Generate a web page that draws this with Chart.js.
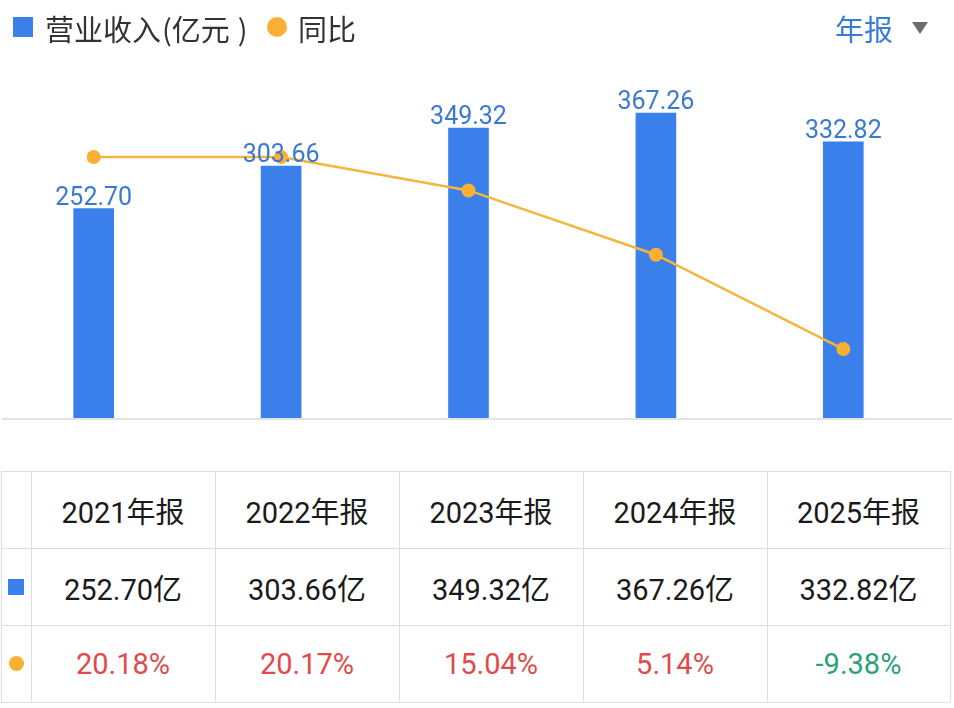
<!DOCTYPE html>
<html><head><meta charset="utf-8">
<script src="https://cdn.jsdelivr.net/npm/chart.js@4"></script>
<style>
html,body{margin:0;padding:0;background:#fff;width:954px;height:708px;overflow:hidden;font-family:"Noto Sans CJK SC","Noto Sans",sans-serif;}
#wrap{position:absolute;left:0;top:0;width:954px;height:440px;}
.abs{position:absolute;}
#legend{left:0;top:0;height:56px;}
.lg-sq{position:absolute;left:13px;top:17px;width:20px;height:20px;background:#3b80ea;}
.lg-t{position:absolute;font-size:29px;color:#333;line-height:56px;top:0;white-space:nowrap;font-family:"Noto Sans CJK SC",sans-serif;}
.lg-c{position:absolute;left:267px;top:17px;width:20px;height:20px;border-radius:50%;background:#fbb034;}
#period{left:835px;top:0;line-height:56px;font-size:29px;color:#3a7bd5;}
#tri{left:912px;top:22px;width:0;height:0;border-left:8px solid transparent;border-right:8px solid transparent;border-top:12px solid #6b6b6b;}
#base{left:2px;top:418px;width:950px;height:2px;background:#e3e3e3;}
.cell{position:absolute;display:flex;align-items:center;justify-content:center;box-sizing:border-box;font-size:29px;font-weight:400;color:#1a1a1a;font-family:"Roboto","Noto Sans CJK SC",sans-serif;}
.hl{position:absolute;height:1px;background:#dedede;}
.vl{position:absolute;width:1px;background:#dedede;}
</style></head>
<body>
<div id="wrap"><canvas id="c" width="954" height="440"></canvas></div>
<div id="legend" class="abs">
  <div class="lg-sq"></div>
  <div class="lg-t" style="left:45px">营业收入<span style="margin-left:1px">(</span>亿元<span style="margin-left:8px">)</span></div>
  <div class="lg-c"></div>
  <div class="lg-t" style="left:298px">同比</div>
</div>
<div id="period" class="abs">年报</div>
<div id="tri" class="abs"></div>
<div id="base" class="abs"></div>
<div id="table"></div>
<script>
const categories = ["2021年报","2022年报","2023年报","2024年报","2025年报"];
const revenue = [252.70, 303.66, 349.32, 367.26, 332.82];
const yoy = [20.18, 20.17, 15.04, 5.14, -9.38];
const revenueAxis = {min: 0, max: 419};
const yoyAxis = {min: -20.15, max: 33.58};

const barLabels = {
  id: 'barLabels',
  afterDatasetsDraw(chart) {
    const ctx = chart.ctx;
    const meta = chart.getDatasetMeta(0);
    ctx.save();
    ctx.font = '25px Roboto, "Noto Sans", sans-serif';
    ctx.fillStyle = '#3a78d6';
    ctx.textAlign = 'center';
    ctx.textBaseline = 'alphabetic';
    meta.data.forEach((el, i) => {
      ctx.fillText(revenue[i].toFixed(2), el.x, el.y - 4);
    });
    ctx.restore();
  }
};

new Chart(document.getElementById('c'), {
  data: {
    labels: categories,
    datasets: [
      {type: 'bar', label: '营业收入(亿元)', data: revenue, backgroundColor: '#3b80ea', barThickness: 40, yAxisID: 'y', order: 2},
      {type: 'line', label: '同比', data: yoy, borderColor: '#f4b63c', borderWidth: 2.5, pointRadius: 7, pointBackgroundColor: '#fbb034', pointBorderWidth: 0, tension: 0, yAxisID: 'y1', order: 1}
    ]
  },
  options: {
    responsive: false,
    animation: false,
    devicePixelRatio: 1,
    layout: {autoPadding: false, padding: {left: 0, right: 17, top: 70, bottom: 21}},
    plugins: {legend: {display: false}, tooltip: {enabled: false}},
    scales: {
      x: {display: false, offset: true},
      y: {display: false, min: revenueAxis.min, max: revenueAxis.max},
      y1: {display: false, position: 'right', min: yoyAxis.min, max: yoyAxis.max}
    }
  },
  plugins: [barLabels]
});

// table
const tbl = document.getElementById('table');
const colX = [1, 31, 215, 399, 583, 767, 950];
const rowY = [471, 548, 625, 702];
function cell(x, y, w, h, html, color) {
  const d = document.createElement('div');
  d.className = 'cell';
  d.style.left = x + 'px'; d.style.top = y + 'px';
  d.style.width = w + 'px'; d.style.height = h + 'px';
  if (color) d.style.color = color;
  d.innerHTML = html;
  tbl.appendChild(d);
}
for (let i = 0; i < categories.length; i++) {
  const x = colX[i + 1], w = colX[i + 2] - colX[i + 1];
  cell(x, rowY[0], w, rowY[1] - rowY[0], categories[i]);
  cell(x, rowY[1], w, rowY[2] - rowY[1], revenue[i].toFixed(2) + '亿');
  cell(x, rowY[2], w, rowY[3] - rowY[2], yoy[i].toFixed(2) + '%', yoy[i] >= 0 ? '#e14a4c' : '#2ba275');
}
cell(colX[0], rowY[1], colX[1] - colX[0], rowY[2] - rowY[1], '<div style="width:16px;height:16px;background:#3b80ea"></div>');
cell(colX[0], rowY[2], colX[1] - colX[0], rowY[3] - rowY[2], '<div style="width:15px;height:15px;border-radius:50%;background:#fbb034"></div>');
rowY.forEach(y => {
  const l = document.createElement('div'); l.className = 'hl';
  l.style.left = colX[0] + 'px'; l.style.top = y + 'px'; l.style.width = (colX[6] - colX[0]) + 'px';
  tbl.appendChild(l);
});
colX.forEach(x => {
  const l = document.createElement('div'); l.className = 'vl';
  l.style.left = x + 'px'; l.style.top = rowY[0] + 'px'; l.style.height = (rowY[3] - rowY[0]) + 'px';
  tbl.appendChild(l);
});
</script>
</body></html>
